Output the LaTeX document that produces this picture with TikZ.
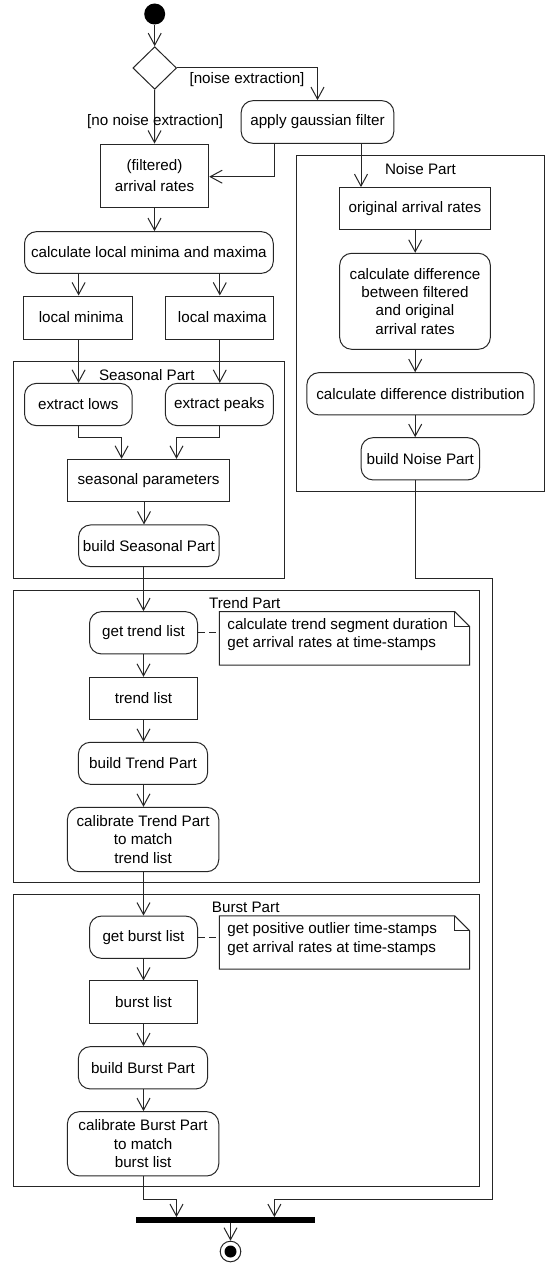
\documentclass[tikz,border=0pt]{standalone}
\usepackage{fontspec}
\setmainfont{Liberation Sans}
\usetikzlibrary{shapes.geometric,arrows.meta,calc}
\begin{document}
\begin{tikzpicture}[x=1pt,y=-1pt,
  every node/.style={font=\fontsize{15.2}{18.3}\selectfont, inner sep=0pt},
  ln/.style={draw=black!85, line width=1pt},
  act/.style={ln, rectangle, rounded corners=12pt, align=center},
  obj/.style={ln, rectangle, align=center},
  frm/.style={ln, rectangle},
  flow/.style={ln, -{Straight Barb[length=12pt,width=13pt]}},
  notelink/.style={ln, dash pattern=on 7pt off 4pt}
]
\useasboundingbox (0,0) rectangle (548,1263);
\fill[white] (0,0) rectangle (548,1263);

% frames
\node[frm, minimum width=248.6pt, minimum height=336pt] (noisef) at (420.3,323) {};
\node[frm, minimum width=270.9pt, minimum height=216.3pt] (seasf) at (148.75,469.85) {};
\node[frm, minimum width=466.6pt, minimum height=292.3pt] (trendf) at (246.6,736.15) {};
\node[frm, minimum width=466.6pt, minimum height=292.4pt] (burstf) at (246.6,1040.5) {};
\node (noiset) at (420.5,169) {Noise Part};
\node (seast) at (146.8,375) {Seasonal Part};
\node (trendt) at (244.7,603.3) {Trend Part};
\node (burstt) at (245.7,907.7) {Burst Part};

% start and decision
\node[circle, fill=black, minimum size=21pt] (init) at (154.7,14) {};
\node[ln, diamond, minimum width=43.7pt, minimum height=42.6pt] (dec) at (154.7,68) {};
\node[act, minimum width=152.7pt, minimum height=42.7pt] (apply) at (317.5,122) {apply gaussian filter};
\node[obj, minimum width=108.4pt, minimum height=63.3pt] (arr) at (154.5,175.7) {(filtered)\\[3pt]arrival rates};
\node[act, minimum width=248.8pt, minimum height=41.7pt] (calc) at (148.9,252.5) {calculate local minima and maxima};
\node[obj, minimum width=108.3pt, minimum height=43pt] (mins) at (78,317.5) {\hspace*{6pt}local minima};
\node[obj, minimum width=108pt, minimum height=43pt] (maxs) at (219.3,317.5) {\hspace*{6pt}local maxima};
\node[act, minimum width=107.6pt, minimum height=42.3pt] (lows) at (78.3,404.5) {extract lows};
\node[act, minimum width=108pt, minimum height=42.3pt] (peaks) at (219.3,404.5) {extract peaks};
\node[obj, minimum width=162.1pt, minimum height=42.3pt] (params) at (148.5,480.5) {seasonal parameters};
\node[act, minimum width=140.6pt, minimum height=41.7pt] (bseas) at (148.9,545.8) {build Seasonal Part};

% noise column
\node[obj, minimum width=151pt, minimum height=42.3pt] (orig) at (414.9,208.8) {original arrival rates};
\node[act, minimum width=150.7pt, minimum height=96pt] (cdiff) at (415,301.3) {calculate difference\\between filtered\\and original\\arrival rates};
\node[act, minimum width=227.2pt, minimum height=42.3pt] (cdist) at (420.5,393.8) {calculate difference distribution};
\node[act, minimum width=118.4pt, minimum height=42.3pt] (bnoise) at (420.3,458.8) {build Noise Part};

% trend part
\node[act, minimum width=108pt, minimum height=42.3pt] (gtrend) at (143.5,632.8) {get trend list};
\node[obj, minimum width=108pt, minimum height=42pt] (tlist) at (143.5,698.3) {trend list};
\node[act, minimum width=129.3pt, minimum height=42pt] (btrend) at (143,763.3) {build Trend Part};
\node[act, minimum width=151.3pt, minimum height=64.4pt] (ctrend) at (143.1,839.5) {calibrate Trend Part\\to match\\trend list};
\node[minimum width=249.9pt, minimum height=53.3pt] (tnote) at (344.45,638.35) {};
\node[anchor=west, align=left] (tnotetext) at (227.2,634.5) {calculate trend segment duration\\get arrival rates at time-stamps};

% burst part
\node[act, minimum width=108pt, minimum height=42.3pt] (gburst) at (143.5,937.2) {get burst list};
\node[obj, minimum width=108pt, minimum height=42.7pt] (blist) at (143.5,1002.3) {burst list};
\node[act, minimum width=129.3pt, minimum height=42.3pt] (bburst) at (143,1067.8) {build Burst Part};
\node[act, minimum width=151.3pt, minimum height=64.3pt] (cburst) at (143.1,1143.8) {calibrate Burst Part\\to match\\burst list};
\node[minimum width=249.9pt, minimum height=53pt] (bnote) at (344.45,942.5) {};
\node[anchor=west, align=left] (bnotetext) at (227.2,939.2) {get positive outlier time-stamps\\get arrival rates at time-stamps};

% join and end
\node[fill=black, minimum width=179pt, minimum height=5.4pt] (bar) at (225.1,1220) {};
\node[ln, circle, minimum size=20.6pt] (fin) at (230.5,1251.5) {};
\node[circle, fill=black, minimum size=12pt] (fininner) at (230.5,1251.5) {};

% note outlines
\foreach \n in {tnote,bnote}{
  \draw[ln] (\n.north west) -- ([xshift=-15pt]\n.north east) -- ([yshift=-15pt]\n.north east) -- (\n.south east) -- (\n.south west) -- cycle;
  \draw[ln] ([xshift=-15pt]\n.north east) |- ([yshift=-15pt]\n.north east);
}
\draw[notelink] (gtrend.east) -- (gtrend.east -| tnote.west);
\draw[notelink] (gburst.east) -- (gburst.east -| bnote.west);

% waypoints
\coordinate (aL) at (274.4,176.7);
\coordinate (aR) at (361,160);
\coordinate (nx) at (415.2,0);
\coordinate (mx) at (78.6,0);
\coordinate (Mx) at (219.8,0);
\coordinate (p1) at (121.6,437.3);
\coordinate (p2) at (176.5,437.3);
\coordinate (sx) at (144,0);
\coordinate (tx) at (143.5,0);
\coordinate (r1) at (492.1,578.3);
\coordinate (r2) at (492.1,1199);
\coordinate (r3) at (274.4,1199);
\coordinate (l1) at (176.5,1199);

% connectors
\draw[flow] (init) -- (dec.north);
\draw[flow] (dec.east) -| (apply.north);
\node (lblne) at (247,80) {[noise extraction]};
\draw[flow] (dec.south) -- (arr.north);
\node (lblnn) at (155.2,121.7) {[no noise extraction]};
\draw[flow] (aL |- apply.south) -- (aL) -- (aL -| arr.east);
\draw[flow] (aR |- apply.south) -- (aR |- orig.north);
\draw[flow] (arr.south) -- (arr.south |- calc.north);
\draw[flow] (mx |- calc.south) -- (mx |- mins.north);
\draw[flow] (Mx |- calc.south) -- (Mx |- maxs.north);
\draw[flow] (mx |- mins.south) -- (mx |- lows.north);
\draw[flow] (Mx |- maxs.south) -- (Mx |- peaks.north);
\draw[flow] (mx |- lows.south) -- (mx |- p1) -- (p1) -- (p1 |- params.north);
\draw[flow] (Mx |- peaks.south) -- (Mx |- p2) -- (p2) -- (p2 |- params.north);
\draw[flow] (sx |- params.south) -- (sx |- bseas.north);
\draw[flow] (tx |- bseas.south) -- (tx |- gtrend.north);
\draw[flow] (tx |- gtrend.south) -- (tx |- tlist.north);
\draw[flow] (tx |- tlist.south) -- (tx |- btrend.north);
\draw[flow] (tx |- btrend.south) -- (tx |- ctrend.north);
\draw[flow] (tx |- ctrend.south) -- (tx |- gburst.north);
\draw[flow] (tx |- gburst.south) -- (tx |- blist.north);
\draw[flow] (tx |- blist.south) -- (tx |- bburst.north);
\draw[flow] (tx |- bburst.south) -- (tx |- cburst.north);
\draw[flow] (nx |- orig.south) -- (nx |- cdiff.north);
\draw[flow] (nx |- cdiff.south) -- (nx |- cdist.north);
\draw[flow] (nx |- cdist.south) -- (nx |- bnoise.north);
\draw[flow] (nx |- bnoise.south) -- (nx |- r1) -- (r1) -- (r2) -- (r3) -- (r3 |- bar.north);
\draw[flow] (tx |- cburst.south) -- (tx |- l1) -- (l1) -- (l1 |- bar.north);
\draw[flow] (fin |- bar.south) -- (fin.north);
\end{tikzpicture}
\end{document}
